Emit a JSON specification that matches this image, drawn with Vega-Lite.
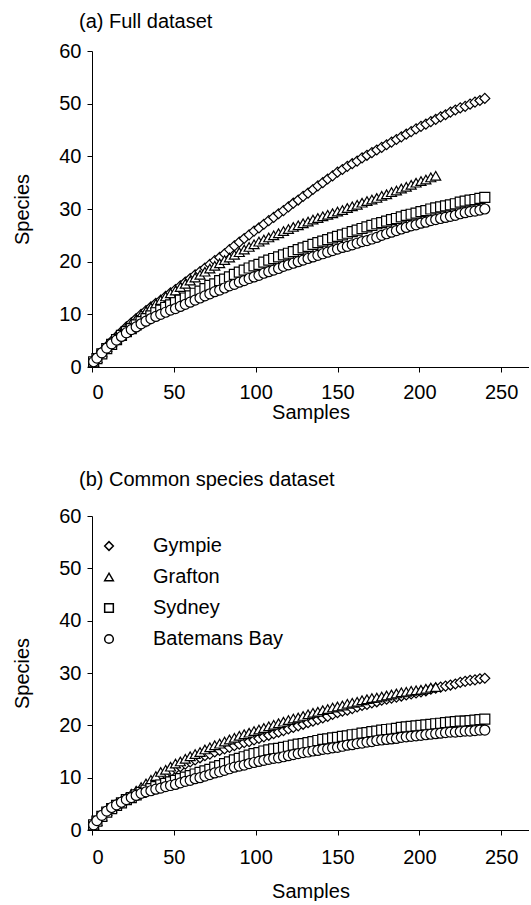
{
  "$schema": "https://vega.github.io/schema/vega-lite/v6.json",
  "background": "white",
  "padding": {"left": 12, "top": 12, "right": 0, "bottom": 0},
  "spacing": 48,
  "config": {
    "view": {"stroke": null},
    "font": "Liberation Sans",
    "axis": {
      "grid": false, "domainColor": "black", "tickColor": "black", "labelColor": "black", "titleColor": "black",
      "labelFont": "Liberation Sans", "titleFont": "Liberation Sans", "labelFontSize": 20, "titleFontSize": 20,
      "titleFontWeight": "normal", "tickSize": 5, "domainWidth": 1, "tickWidth": 1
    },
    "axisX": {"labelPadding": 10, "titlePadding": 0},
    "axisY": {"labelPadding": 6, "titlePadding": 26},
    "title": {"anchor": "start", "frame": "group", "fontSize": 20, "fontWeight": "normal", "font": "Liberation Sans", "color": "black", "dx": -13, "offset": 9}
  },
  "datasets": {
    "full": [
      {"s":"Gympie","x":1,"y":1},{"s":"Gympie","x":3,"y":1.8},{"s":"Gympie","x":6,"y":2.9},{"s":"Gympie","x":9,"y":3.9},{"s":"Gympie","x":12,"y":4.9},{"s":"Gympie","x":15,"y":5.8},{"s":"Gympie","x":18,"y":6.7},{"s":"Gympie","x":21,"y":7.6},{"s":"Gympie","x":24,"y":8.4},{"s":"Gympie","x":27,"y":9.2},{"s":"Gympie","x":30,"y":10},{"s":"Gympie","x":33,"y":10.7},{"s":"Gympie","x":36,"y":11.4},{"s":"Gympie","x":39,"y":12.1},{"s":"Gympie","x":42,"y":12.7},{"s":"Gympie","x":45,"y":13.4},{"s":"Gympie","x":48,"y":14.1},{"s":"Gympie","x":51,"y":14.7},{"s":"Gympie","x":54,"y":15.4},{"s":"Gympie","x":57,"y":16.1},{"s":"Gympie","x":60,"y":16.8},{"s":"Gympie","x":63,"y":17.5},{"s":"Gympie","x":66,"y":18.1},{"s":"Gympie","x":69,"y":18.8},{"s":"Gympie","x":72,"y":19.5},{"s":"Gympie","x":75,"y":20.2},{"s":"Gympie","x":78,"y":20.8},{"s":"Gympie","x":81,"y":21.5},{"s":"Gympie","x":84,"y":22.3},{"s":"Gympie","x":87,"y":23},{"s":"Gympie","x":90,"y":23.7},{"s":"Gympie","x":93,"y":24.4},{"s":"Gympie","x":96,"y":25.1},{"s":"Gympie","x":99,"y":25.8},{"s":"Gympie","x":102,"y":26.4},{"s":"Gympie","x":105,"y":27.1},{"s":"Gympie","x":108,"y":27.8},{"s":"Gympie","x":111,"y":28.4},{"s":"Gympie","x":114,"y":29.1},{"s":"Gympie","x":117,"y":29.7},{"s":"Gympie","x":120,"y":30.4},{"s":"Gympie","x":123,"y":31.1},{"s":"Gympie","x":126,"y":31.7},{"s":"Gympie","x":129,"y":32.4},{"s":"Gympie","x":132,"y":33},{"s":"Gympie","x":135,"y":33.7},{"s":"Gympie","x":138,"y":34.4},{"s":"Gympie","x":141,"y":35},{"s":"Gympie","x":144,"y":35.7},{"s":"Gympie","x":147,"y":36.3},{"s":"Gympie","x":150,"y":37},{"s":"Gympie","x":153,"y":37.5},{"s":"Gympie","x":156,"y":38.1},{"s":"Gympie","x":159,"y":38.6},{"s":"Gympie","x":162,"y":39.1},{"s":"Gympie","x":165,"y":39.7},{"s":"Gympie","x":168,"y":40.2},{"s":"Gympie","x":171,"y":40.7},{"s":"Gympie","x":174,"y":41.2},{"s":"Gympie","x":177,"y":41.7},{"s":"Gympie","x":180,"y":42.2},{"s":"Gympie","x":183,"y":42.7},{"s":"Gympie","x":186,"y":43.2},{"s":"Gympie","x":189,"y":43.7},{"s":"Gympie","x":192,"y":44.2},{"s":"Gympie","x":195,"y":44.7},{"s":"Gympie","x":198,"y":45.2},{"s":"Gympie","x":201,"y":45.7},{"s":"Gympie","x":204,"y":46.1},{"s":"Gympie","x":207,"y":46.6},{"s":"Gympie","x":210,"y":47},{"s":"Gympie","x":213,"y":47.5},{"s":"Gympie","x":216,"y":47.9},{"s":"Gympie","x":219,"y":48.4},{"s":"Gympie","x":222,"y":48.8},{"s":"Gympie","x":225,"y":49.2},{"s":"Gympie","x":228,"y":49.5},{"s":"Gympie","x":231,"y":49.9},{"s":"Gympie","x":234,"y":50.3},{"s":"Gympie","x":237,"y":50.6},{"s":"Gympie","x":240,"y":51},
      {"s":"Grafton","x":1,"y":1},{"s":"Grafton","x":3,"y":1.7},{"s":"Grafton","x":6,"y":2.8},{"s":"Grafton","x":9,"y":3.8},{"s":"Grafton","x":12,"y":4.8},{"s":"Grafton","x":15,"y":5.7},{"s":"Grafton","x":18,"y":6.6},{"s":"Grafton","x":21,"y":7.5},{"s":"Grafton","x":24,"y":8.3},{"s":"Grafton","x":27,"y":9.1},{"s":"Grafton","x":30,"y":9.9},{"s":"Grafton","x":33,"y":10.6},{"s":"Grafton","x":36,"y":11.3},{"s":"Grafton","x":39,"y":12},{"s":"Grafton","x":42,"y":12.7},{"s":"Grafton","x":45,"y":13.4},{"s":"Grafton","x":48,"y":14},{"s":"Grafton","x":51,"y":14.5},{"s":"Grafton","x":54,"y":15.2},{"s":"Grafton","x":57,"y":15.8},{"s":"Grafton","x":60,"y":16.4},{"s":"Grafton","x":63,"y":17},{"s":"Grafton","x":66,"y":17.5},{"s":"Grafton","x":69,"y":18.1},{"s":"Grafton","x":72,"y":18.7},{"s":"Grafton","x":75,"y":19.2},{"s":"Grafton","x":78,"y":19.7},{"s":"Grafton","x":81,"y":20.3},{"s":"Grafton","x":84,"y":20.8},{"s":"Grafton","x":87,"y":21.3},{"s":"Grafton","x":90,"y":21.8},{"s":"Grafton","x":93,"y":22.3},{"s":"Grafton","x":96,"y":22.8},{"s":"Grafton","x":99,"y":23.3},{"s":"Grafton","x":102,"y":23.8},{"s":"Grafton","x":105,"y":24.2},{"s":"Grafton","x":108,"y":24.6},{"s":"Grafton","x":111,"y":25},{"s":"Grafton","x":114,"y":25.4},{"s":"Grafton","x":117,"y":25.8},{"s":"Grafton","x":120,"y":26.2},{"s":"Grafton","x":123,"y":26.6},{"s":"Grafton","x":126,"y":26.9},{"s":"Grafton","x":129,"y":27.3},{"s":"Grafton","x":132,"y":27.6},{"s":"Grafton","x":135,"y":28},{"s":"Grafton","x":138,"y":28.3},{"s":"Grafton","x":141,"y":28.6},{"s":"Grafton","x":144,"y":28.9},{"s":"Grafton","x":147,"y":29.2},{"s":"Grafton","x":150,"y":29.5},{"s":"Grafton","x":153,"y":29.8},{"s":"Grafton","x":156,"y":30.2},{"s":"Grafton","x":159,"y":30.5},{"s":"Grafton","x":162,"y":30.8},{"s":"Grafton","x":165,"y":31.2},{"s":"Grafton","x":168,"y":31.5},{"s":"Grafton","x":171,"y":31.8},{"s":"Grafton","x":174,"y":32.1},{"s":"Grafton","x":177,"y":32.5},{"s":"Grafton","x":180,"y":32.8},{"s":"Grafton","x":183,"y":33.2},{"s":"Grafton","x":186,"y":33.5},{"s":"Grafton","x":189,"y":33.9},{"s":"Grafton","x":192,"y":34.2},{"s":"Grafton","x":195,"y":34.6},{"s":"Grafton","x":198,"y":35},{"s":"Grafton","x":201,"y":35.3},{"s":"Grafton","x":204,"y":35.6},{"s":"Grafton","x":207,"y":36},{"s":"Grafton","x":210,"y":36.3},
      {"s":"Sydney","x":1,"y":1},{"s":"Sydney","x":3,"y":1.6},{"s":"Sydney","x":6,"y":2.5},{"s":"Sydney","x":9,"y":3.5},{"s":"Sydney","x":12,"y":4.3},{"s":"Sydney","x":15,"y":5.2},{"s":"Sydney","x":18,"y":6},{"s":"Sydney","x":21,"y":6.7},{"s":"Sydney","x":24,"y":7.3},{"s":"Sydney","x":27,"y":8},{"s":"Sydney","x":30,"y":8.6},{"s":"Sydney","x":33,"y":9.2},{"s":"Sydney","x":36,"y":9.7},{"s":"Sydney","x":39,"y":10.3},{"s":"Sydney","x":42,"y":10.8},{"s":"Sydney","x":45,"y":11.3},{"s":"Sydney","x":48,"y":11.8},{"s":"Sydney","x":51,"y":12.2},{"s":"Sydney","x":54,"y":12.7},{"s":"Sydney","x":57,"y":13.1},{"s":"Sydney","x":60,"y":13.5},{"s":"Sydney","x":63,"y":14},{"s":"Sydney","x":66,"y":14.4},{"s":"Sydney","x":69,"y":14.9},{"s":"Sydney","x":72,"y":15.5},{"s":"Sydney","x":75,"y":15.8},{"s":"Sydney","x":78,"y":16.4},{"s":"Sydney","x":81,"y":16.7},{"s":"Sydney","x":84,"y":17.1},{"s":"Sydney","x":87,"y":17.6},{"s":"Sydney","x":90,"y":18},{"s":"Sydney","x":93,"y":18.4},{"s":"Sydney","x":96,"y":18.8},{"s":"Sydney","x":99,"y":19.2},{"s":"Sydney","x":102,"y":19.5},{"s":"Sydney","x":105,"y":19.9},{"s":"Sydney","x":108,"y":20.3},{"s":"Sydney","x":111,"y":20.6},{"s":"Sydney","x":114,"y":20.9},{"s":"Sydney","x":117,"y":21.3},{"s":"Sydney","x":120,"y":21.6},{"s":"Sydney","x":123,"y":21.9},{"s":"Sydney","x":126,"y":22.3},{"s":"Sydney","x":129,"y":22.6},{"s":"Sydney","x":132,"y":22.9},{"s":"Sydney","x":135,"y":23.3},{"s":"Sydney","x":138,"y":23.6},{"s":"Sydney","x":141,"y":23.9},{"s":"Sydney","x":144,"y":24.2},{"s":"Sydney","x":147,"y":24.5},{"s":"Sydney","x":150,"y":24.8},{"s":"Sydney","x":153,"y":25.1},{"s":"Sydney","x":156,"y":25.4},{"s":"Sydney","x":159,"y":25.7},{"s":"Sydney","x":162,"y":26},{"s":"Sydney","x":165,"y":26.3},{"s":"Sydney","x":168,"y":26.6},{"s":"Sydney","x":171,"y":26.9},{"s":"Sydney","x":174,"y":27.2},{"s":"Sydney","x":177,"y":27.4},{"s":"Sydney","x":180,"y":27.7},{"s":"Sydney","x":183,"y":28},{"s":"Sydney","x":186,"y":28.2},{"s":"Sydney","x":189,"y":28.5},{"s":"Sydney","x":192,"y":28.8},{"s":"Sydney","x":195,"y":29},{"s":"Sydney","x":198,"y":29.2},{"s":"Sydney","x":201,"y":29.5},{"s":"Sydney","x":204,"y":29.7},{"s":"Sydney","x":207,"y":30},{"s":"Sydney","x":210,"y":30.2},{"s":"Sydney","x":213,"y":30.4},{"s":"Sydney","x":216,"y":30.6},{"s":"Sydney","x":219,"y":30.8},{"s":"Sydney","x":222,"y":31},{"s":"Sydney","x":225,"y":31.3},{"s":"Sydney","x":228,"y":31.5},{"s":"Sydney","x":231,"y":31.7},{"s":"Sydney","x":234,"y":31.8},{"s":"Sydney","x":237,"y":32},{"s":"Sydney","x":240,"y":32.2},
      {"s":"Batemans Bay","x":1,"y":1},{"s":"Batemans Bay","x":3,"y":1.7},{"s":"Batemans Bay","x":6,"y":2.7},{"s":"Batemans Bay","x":9,"y":3.6},{"s":"Batemans Bay","x":12,"y":4.4},{"s":"Batemans Bay","x":15,"y":5.1},{"s":"Batemans Bay","x":18,"y":5.8},{"s":"Batemans Bay","x":21,"y":6.5},{"s":"Batemans Bay","x":24,"y":7.1},{"s":"Batemans Bay","x":27,"y":7.6},{"s":"Batemans Bay","x":30,"y":8.2},{"s":"Batemans Bay","x":33,"y":8.7},{"s":"Batemans Bay","x":36,"y":9.2},{"s":"Batemans Bay","x":39,"y":9.6},{"s":"Batemans Bay","x":42,"y":10},{"s":"Batemans Bay","x":45,"y":10.4},{"s":"Batemans Bay","x":48,"y":10.8},{"s":"Batemans Bay","x":51,"y":11.1},{"s":"Batemans Bay","x":54,"y":11.5},{"s":"Batemans Bay","x":57,"y":11.9},{"s":"Batemans Bay","x":60,"y":12.3},{"s":"Batemans Bay","x":63,"y":12.7},{"s":"Batemans Bay","x":66,"y":13.1},{"s":"Batemans Bay","x":69,"y":13.5},{"s":"Batemans Bay","x":72,"y":13.9},{"s":"Batemans Bay","x":75,"y":14.3},{"s":"Batemans Bay","x":78,"y":14.6},{"s":"Batemans Bay","x":81,"y":15},{"s":"Batemans Bay","x":84,"y":15.4},{"s":"Batemans Bay","x":87,"y":15.7},{"s":"Batemans Bay","x":90,"y":16.1},{"s":"Batemans Bay","x":93,"y":16.4},{"s":"Batemans Bay","x":96,"y":16.8},{"s":"Batemans Bay","x":99,"y":17.1},{"s":"Batemans Bay","x":102,"y":17.4},{"s":"Batemans Bay","x":105,"y":17.8},{"s":"Batemans Bay","x":108,"y":18.1},{"s":"Batemans Bay","x":111,"y":18.4},{"s":"Batemans Bay","x":114,"y":18.7},{"s":"Batemans Bay","x":117,"y":19.1},{"s":"Batemans Bay","x":120,"y":19.4},{"s":"Batemans Bay","x":123,"y":19.7},{"s":"Batemans Bay","x":126,"y":20},{"s":"Batemans Bay","x":129,"y":20.3},{"s":"Batemans Bay","x":132,"y":20.6},{"s":"Batemans Bay","x":135,"y":20.9},{"s":"Batemans Bay","x":138,"y":21.2},{"s":"Batemans Bay","x":141,"y":21.5},{"s":"Batemans Bay","x":144,"y":21.8},{"s":"Batemans Bay","x":147,"y":22.1},{"s":"Batemans Bay","x":150,"y":22.4},{"s":"Batemans Bay","x":153,"y":22.7},{"s":"Batemans Bay","x":156,"y":22.9},{"s":"Batemans Bay","x":159,"y":23.2},{"s":"Batemans Bay","x":162,"y":23.5},{"s":"Batemans Bay","x":165,"y":23.8},{"s":"Batemans Bay","x":168,"y":24},{"s":"Batemans Bay","x":171,"y":24.3},{"s":"Batemans Bay","x":174,"y":24.6},{"s":"Batemans Bay","x":177,"y":25},{"s":"Batemans Bay","x":180,"y":25.3},{"s":"Batemans Bay","x":183,"y":25.6},{"s":"Batemans Bay","x":186,"y":25.9},{"s":"Batemans Bay","x":189,"y":26.2},{"s":"Batemans Bay","x":192,"y":26.5},{"s":"Batemans Bay","x":195,"y":26.8},{"s":"Batemans Bay","x":198,"y":27},{"s":"Batemans Bay","x":201,"y":27.3},{"s":"Batemans Bay","x":204,"y":27.5},{"s":"Batemans Bay","x":207,"y":27.8},{"s":"Batemans Bay","x":210,"y":28},{"s":"Batemans Bay","x":213,"y":28.2},{"s":"Batemans Bay","x":216,"y":28.4},{"s":"Batemans Bay","x":219,"y":28.6},{"s":"Batemans Bay","x":222,"y":28.8},{"s":"Batemans Bay","x":225,"y":29.1},{"s":"Batemans Bay","x":228,"y":29.3},{"s":"Batemans Bay","x":231,"y":29.5},{"s":"Batemans Bay","x":234,"y":29.6},{"s":"Batemans Bay","x":237,"y":29.8},{"s":"Batemans Bay","x":240,"y":30}
    ],
    "common": [
      {"s":"Gympie","x":1,"y":1},{"s":"Gympie","x":3,"y":1.7},{"s":"Gympie","x":6,"y":2.6},{"s":"Gympie","x":9,"y":3.5},{"s":"Gympie","x":12,"y":4.2},{"s":"Gympie","x":15,"y":4.8},{"s":"Gympie","x":18,"y":5.4},{"s":"Gympie","x":21,"y":6},{"s":"Gympie","x":24,"y":6.5},{"s":"Gympie","x":27,"y":7.1},{"s":"Gympie","x":30,"y":7.6},{"s":"Gympie","x":33,"y":8.2},{"s":"Gympie","x":36,"y":8.8},{"s":"Gympie","x":39,"y":9.4},{"s":"Gympie","x":42,"y":10},{"s":"Gympie","x":45,"y":10.6},{"s":"Gympie","x":48,"y":11.1},{"s":"Gympie","x":51,"y":11.7},{"s":"Gympie","x":54,"y":12.1},{"s":"Gympie","x":57,"y":12.6},{"s":"Gympie","x":60,"y":13},{"s":"Gympie","x":63,"y":13.4},{"s":"Gympie","x":66,"y":13.8},{"s":"Gympie","x":69,"y":14.2},{"s":"Gympie","x":72,"y":14.5},{"s":"Gympie","x":75,"y":14.9},{"s":"Gympie","x":78,"y":15.2},{"s":"Gympie","x":81,"y":15.5},{"s":"Gympie","x":84,"y":15.8},{"s":"Gympie","x":87,"y":16.1},{"s":"Gympie","x":90,"y":16.4},{"s":"Gympie","x":93,"y":16.7},{"s":"Gympie","x":96,"y":16.9},{"s":"Gympie","x":99,"y":17.2},{"s":"Gympie","x":102,"y":17.5},{"s":"Gympie","x":105,"y":17.8},{"s":"Gympie","x":108,"y":18.1},{"s":"Gympie","x":111,"y":18.4},{"s":"Gympie","x":114,"y":18.7},{"s":"Gympie","x":117,"y":19},{"s":"Gympie","x":120,"y":19.3},{"s":"Gympie","x":123,"y":19.6},{"s":"Gympie","x":126,"y":19.9},{"s":"Gympie","x":129,"y":20.2},{"s":"Gympie","x":132,"y":20.5},{"s":"Gympie","x":135,"y":20.8},{"s":"Gympie","x":138,"y":21.1},{"s":"Gympie","x":141,"y":21.4},{"s":"Gympie","x":144,"y":21.7},{"s":"Gympie","x":147,"y":22.1},{"s":"Gympie","x":150,"y":22.4},{"s":"Gympie","x":153,"y":22.7},{"s":"Gympie","x":156,"y":22.9},{"s":"Gympie","x":159,"y":23.2},{"s":"Gympie","x":162,"y":23.5},{"s":"Gympie","x":165,"y":23.8},{"s":"Gympie","x":168,"y":24},{"s":"Gympie","x":171,"y":24.3},{"s":"Gympie","x":174,"y":24.5},{"s":"Gympie","x":177,"y":24.8},{"s":"Gympie","x":180,"y":25},{"s":"Gympie","x":183,"y":25.2},{"s":"Gympie","x":186,"y":25.4},{"s":"Gympie","x":189,"y":25.6},{"s":"Gympie","x":192,"y":25.8},{"s":"Gympie","x":195,"y":26},{"s":"Gympie","x":198,"y":26.2},{"s":"Gympie","x":201,"y":26.4},{"s":"Gympie","x":204,"y":26.6},{"s":"Gympie","x":207,"y":26.9},{"s":"Gympie","x":210,"y":27.1},{"s":"Gympie","x":213,"y":27.3},{"s":"Gympie","x":216,"y":27.5},{"s":"Gympie","x":219,"y":27.7},{"s":"Gympie","x":222,"y":27.9},{"s":"Gympie","x":225,"y":28.2},{"s":"Gympie","x":228,"y":28.4},{"s":"Gympie","x":231,"y":28.6},{"s":"Gympie","x":234,"y":28.7},{"s":"Gympie","x":237,"y":28.9},{"s":"Gympie","x":240,"y":29},
      {"s":"Grafton","x":1,"y":1},{"s":"Grafton","x":3,"y":1.7},{"s":"Grafton","x":6,"y":2.6},{"s":"Grafton","x":9,"y":3.6},{"s":"Grafton","x":12,"y":4.3},{"s":"Grafton","x":15,"y":5},{"s":"Grafton","x":18,"y":5.6},{"s":"Grafton","x":21,"y":6.2},{"s":"Grafton","x":24,"y":6.9},{"s":"Grafton","x":27,"y":7.5},{"s":"Grafton","x":30,"y":8.2},{"s":"Grafton","x":33,"y":8.9},{"s":"Grafton","x":36,"y":9.6},{"s":"Grafton","x":39,"y":10.3},{"s":"Grafton","x":42,"y":11.1},{"s":"Grafton","x":45,"y":11.5},{"s":"Grafton","x":48,"y":12.1},{"s":"Grafton","x":51,"y":12.7},{"s":"Grafton","x":54,"y":13.1},{"s":"Grafton","x":57,"y":13.6},{"s":"Grafton","x":60,"y":14.1},{"s":"Grafton","x":63,"y":14.5},{"s":"Grafton","x":66,"y":14.9},{"s":"Grafton","x":69,"y":15.4},{"s":"Grafton","x":72,"y":15.8},{"s":"Grafton","x":75,"y":16.2},{"s":"Grafton","x":78,"y":16.5},{"s":"Grafton","x":81,"y":16.9},{"s":"Grafton","x":84,"y":17.3},{"s":"Grafton","x":87,"y":17.6},{"s":"Grafton","x":90,"y":18},{"s":"Grafton","x":93,"y":18.3},{"s":"Grafton","x":96,"y":18.6},{"s":"Grafton","x":99,"y":18.9},{"s":"Grafton","x":102,"y":19.2},{"s":"Grafton","x":105,"y":19.5},{"s":"Grafton","x":108,"y":19.8},{"s":"Grafton","x":111,"y":20.1},{"s":"Grafton","x":114,"y":20.4},{"s":"Grafton","x":117,"y":20.7},{"s":"Grafton","x":120,"y":21},{"s":"Grafton","x":123,"y":21.3},{"s":"Grafton","x":126,"y":21.5},{"s":"Grafton","x":129,"y":21.8},{"s":"Grafton","x":132,"y":22.1},{"s":"Grafton","x":135,"y":22.4},{"s":"Grafton","x":138,"y":22.6},{"s":"Grafton","x":141,"y":22.9},{"s":"Grafton","x":144,"y":23.1},{"s":"Grafton","x":147,"y":23.4},{"s":"Grafton","x":150,"y":23.6},{"s":"Grafton","x":153,"y":23.8},{"s":"Grafton","x":156,"y":24.1},{"s":"Grafton","x":159,"y":24.3},{"s":"Grafton","x":162,"y":24.5},{"s":"Grafton","x":165,"y":24.8},{"s":"Grafton","x":168,"y":25},{"s":"Grafton","x":171,"y":25.2},{"s":"Grafton","x":174,"y":25.3},{"s":"Grafton","x":177,"y":25.5},{"s":"Grafton","x":180,"y":25.7},{"s":"Grafton","x":183,"y":25.9},{"s":"Grafton","x":186,"y":26.1},{"s":"Grafton","x":189,"y":26.3},{"s":"Grafton","x":192,"y":26.4},{"s":"Grafton","x":195,"y":26.6},{"s":"Grafton","x":198,"y":26.7},{"s":"Grafton","x":201,"y":26.8},{"s":"Grafton","x":204,"y":27},{"s":"Grafton","x":207,"y":27.2},{"s":"Grafton","x":210,"y":27.3},
      {"s":"Sydney","x":1,"y":1},{"s":"Sydney","x":3,"y":1.7},{"s":"Sydney","x":6,"y":2.6},{"s":"Sydney","x":9,"y":3.4},{"s":"Sydney","x":12,"y":4.1},{"s":"Sydney","x":15,"y":4.7},{"s":"Sydney","x":18,"y":5.2},{"s":"Sydney","x":21,"y":5.8},{"s":"Sydney","x":24,"y":6.2},{"s":"Sydney","x":27,"y":6.7},{"s":"Sydney","x":30,"y":7.2},{"s":"Sydney","x":33,"y":7.6},{"s":"Sydney","x":36,"y":7.9},{"s":"Sydney","x":39,"y":8.3},{"s":"Sydney","x":42,"y":8.6},{"s":"Sydney","x":45,"y":8.9},{"s":"Sydney","x":48,"y":9.2},{"s":"Sydney","x":51,"y":9.5},{"s":"Sydney","x":54,"y":9.8},{"s":"Sydney","x":57,"y":10.1},{"s":"Sydney","x":60,"y":10.4},{"s":"Sydney","x":63,"y":10.7},{"s":"Sydney","x":66,"y":11},{"s":"Sydney","x":69,"y":11.3},{"s":"Sydney","x":72,"y":11.6},{"s":"Sydney","x":75,"y":12},{"s":"Sydney","x":78,"y":12.3},{"s":"Sydney","x":81,"y":12.7},{"s":"Sydney","x":84,"y":13},{"s":"Sydney","x":87,"y":13.4},{"s":"Sydney","x":90,"y":13.7},{"s":"Sydney","x":93,"y":14},{"s":"Sydney","x":96,"y":14.3},{"s":"Sydney","x":99,"y":14.6},{"s":"Sydney","x":102,"y":14.8},{"s":"Sydney","x":105,"y":15.1},{"s":"Sydney","x":108,"y":15.3},{"s":"Sydney","x":111,"y":15.5},{"s":"Sydney","x":114,"y":15.6},{"s":"Sydney","x":117,"y":15.8},{"s":"Sydney","x":120,"y":16},{"s":"Sydney","x":123,"y":16.2},{"s":"Sydney","x":126,"y":16.4},{"s":"Sydney","x":129,"y":16.5},{"s":"Sydney","x":132,"y":16.7},{"s":"Sydney","x":135,"y":16.9},{"s":"Sydney","x":138,"y":17.1},{"s":"Sydney","x":141,"y":17.3},{"s":"Sydney","x":144,"y":17.4},{"s":"Sydney","x":147,"y":17.6},{"s":"Sydney","x":150,"y":17.7},{"s":"Sydney","x":153,"y":17.9},{"s":"Sydney","x":156,"y":18},{"s":"Sydney","x":159,"y":18.2},{"s":"Sydney","x":162,"y":18.3},{"s":"Sydney","x":165,"y":18.5},{"s":"Sydney","x":168,"y":18.6},{"s":"Sydney","x":171,"y":18.8},{"s":"Sydney","x":174,"y":18.9},{"s":"Sydney","x":177,"y":19.1},{"s":"Sydney","x":180,"y":19.2},{"s":"Sydney","x":183,"y":19.3},{"s":"Sydney","x":186,"y":19.4},{"s":"Sydney","x":189,"y":19.6},{"s":"Sydney","x":192,"y":19.7},{"s":"Sydney","x":195,"y":19.8},{"s":"Sydney","x":198,"y":19.9},{"s":"Sydney","x":201,"y":20},{"s":"Sydney","x":204,"y":20.1},{"s":"Sydney","x":207,"y":20.2},{"s":"Sydney","x":210,"y":20.3},{"s":"Sydney","x":213,"y":20.4},{"s":"Sydney","x":216,"y":20.5},{"s":"Sydney","x":219,"y":20.6},{"s":"Sydney","x":222,"y":20.7},{"s":"Sydney","x":225,"y":20.8},{"s":"Sydney","x":228,"y":20.8},{"s":"Sydney","x":231,"y":20.9},{"s":"Sydney","x":234,"y":21},{"s":"Sydney","x":237,"y":21.1},{"s":"Sydney","x":240,"y":21.2},
      {"s":"Batemans Bay","x":1,"y":1},{"s":"Batemans Bay","x":3,"y":1.8},{"s":"Batemans Bay","x":6,"y":2.8},{"s":"Batemans Bay","x":9,"y":3.6},{"s":"Batemans Bay","x":12,"y":4.3},{"s":"Batemans Bay","x":15,"y":4.8},{"s":"Batemans Bay","x":18,"y":5.3},{"s":"Batemans Bay","x":21,"y":5.8},{"s":"Batemans Bay","x":24,"y":6.2},{"s":"Batemans Bay","x":27,"y":6.6},{"s":"Batemans Bay","x":30,"y":7},{"s":"Batemans Bay","x":33,"y":7.3},{"s":"Batemans Bay","x":36,"y":7.5},{"s":"Batemans Bay","x":39,"y":7.8},{"s":"Batemans Bay","x":42,"y":8},{"s":"Batemans Bay","x":45,"y":8.3},{"s":"Batemans Bay","x":48,"y":8.5},{"s":"Batemans Bay","x":51,"y":8.7},{"s":"Batemans Bay","x":54,"y":9},{"s":"Batemans Bay","x":57,"y":9.3},{"s":"Batemans Bay","x":60,"y":9.5},{"s":"Batemans Bay","x":63,"y":9.8},{"s":"Batemans Bay","x":66,"y":10},{"s":"Batemans Bay","x":69,"y":10.3},{"s":"Batemans Bay","x":72,"y":10.6},{"s":"Batemans Bay","x":75,"y":10.9},{"s":"Batemans Bay","x":78,"y":11.1},{"s":"Batemans Bay","x":81,"y":11.4},{"s":"Batemans Bay","x":84,"y":11.7},{"s":"Batemans Bay","x":87,"y":12},{"s":"Batemans Bay","x":90,"y":12.2},{"s":"Batemans Bay","x":93,"y":12.4},{"s":"Batemans Bay","x":96,"y":12.7},{"s":"Batemans Bay","x":99,"y":12.9},{"s":"Batemans Bay","x":102,"y":13.1},{"s":"Batemans Bay","x":105,"y":13.3},{"s":"Batemans Bay","x":108,"y":13.5},{"s":"Batemans Bay","x":111,"y":13.7},{"s":"Batemans Bay","x":114,"y":13.8},{"s":"Batemans Bay","x":117,"y":14},{"s":"Batemans Bay","x":120,"y":14.2},{"s":"Batemans Bay","x":123,"y":14.4},{"s":"Batemans Bay","x":126,"y":14.6},{"s":"Batemans Bay","x":129,"y":14.8},{"s":"Batemans Bay","x":132,"y":14.9},{"s":"Batemans Bay","x":135,"y":15.1},{"s":"Batemans Bay","x":138,"y":15.2},{"s":"Batemans Bay","x":141,"y":15.4},{"s":"Batemans Bay","x":144,"y":15.5},{"s":"Batemans Bay","x":147,"y":15.7},{"s":"Batemans Bay","x":150,"y":15.8},{"s":"Batemans Bay","x":153,"y":16},{"s":"Batemans Bay","x":156,"y":16.2},{"s":"Batemans Bay","x":159,"y":16.3},{"s":"Batemans Bay","x":162,"y":16.5},{"s":"Batemans Bay","x":165,"y":16.6},{"s":"Batemans Bay","x":168,"y":16.8},{"s":"Batemans Bay","x":171,"y":16.9},{"s":"Batemans Bay","x":174,"y":17.1},{"s":"Batemans Bay","x":177,"y":17.2},{"s":"Batemans Bay","x":180,"y":17.3},{"s":"Batemans Bay","x":183,"y":17.4},{"s":"Batemans Bay","x":186,"y":17.5},{"s":"Batemans Bay","x":189,"y":17.7},{"s":"Batemans Bay","x":192,"y":17.8},{"s":"Batemans Bay","x":195,"y":17.9},{"s":"Batemans Bay","x":198,"y":18},{"s":"Batemans Bay","x":201,"y":18.1},{"s":"Batemans Bay","x":204,"y":18.2},{"s":"Batemans Bay","x":207,"y":18.3},{"s":"Batemans Bay","x":210,"y":18.4},{"s":"Batemans Bay","x":213,"y":18.5},{"s":"Batemans Bay","x":216,"y":18.6},{"s":"Batemans Bay","x":219,"y":18.7},{"s":"Batemans Bay","x":222,"y":18.7},{"s":"Batemans Bay","x":225,"y":18.8},{"s":"Batemans Bay","x":228,"y":18.9},{"s":"Batemans Bay","x":231,"y":18.9},{"s":"Batemans Bay","x":234,"y":19},{"s":"Batemans Bay","x":237,"y":19.1},{"s":"Batemans Bay","x":240,"y":19.1}
    ]
  },
  "resolve": {"legend": {"shape": "independent"}},
  "vconcat": [
    {
      "title": {"text": "(a) Full dataset"},
      "width": 437,
      "height": 316,
      "data": {"name": "full"},
      "mark": {"type": "point", "filled": true, "fill": "white", "stroke": "black", "strokeWidth": 1.2, "size": 100, "opacity": 1},
      "encoding": {
        "x": {"field": "x", "type": "quantitative", "title": "Samples", "scale": {"domain": [0, 267], "nice": false}, "axis": {"values": [0, 50, 100, 150, 200, 250]}},
        "y": {"field": "y", "type": "quantitative", "title": "Species", "scale": {"domain": [0, 60], "nice": false}, "axis": {"values": [0, 10, 20, 30, 40, 50, 60]}},
        "shape": {"field": "s", "type": "nominal", "scale": {"domain": ["Gympie", "Grafton", "Sydney", "Batemans Bay"], "range": ["diamond", "triangle-up", "square", "circle"]}, "legend": null}
      }
    },
    {
      "title": {"text": "(b) Common species dataset", "offset": 16},
      "width": 437,
      "height": 314,
      "data": {"name": "common"},
      "mark": {"type": "point", "filled": true, "fill": "white", "stroke": "black", "strokeWidth": 1.2, "size": 100, "opacity": 1},
      "encoding": {
        "x": {"field": "x", "type": "quantitative", "title": "Samples", "scale": {"domain": [0, 267], "nice": false}, "axis": {"values": [0, 50, 100, 150, 200, 250], "labelPadding": 12, "titlePadding": 14}},
        "y": {"field": "y", "type": "quantitative", "title": "Species", "scale": {"domain": [0, 60], "nice": false}, "axis": {"values": [0, 10, 20, 30, 40, 50, 60]}},
        "shape": {"field": "s", "type": "nominal", "scale": {"domain": ["Gympie", "Grafton", "Sydney", "Batemans Bay"], "range": ["diamond", "triangle-up", "square", "circle"]},
          "legend": {"orient": "none", "legendX": 7, "legendY": 20, "title": null, "padding": 0, "labelFontSize": 20, "labelFont": "Liberation Sans", "labelColor": "black", "symbolSize": 75, "symbolOpacity": 1, "rowPadding": 11, "labelOffset": 34,
            "encode": {"symbols": {"update": {"fill": {"value": "white"}, "stroke": {"value": "black"}, "strokeWidth": {"value": 1}, "opacity": {"value": 1}}}}}}
      }
    }
  ]
}
